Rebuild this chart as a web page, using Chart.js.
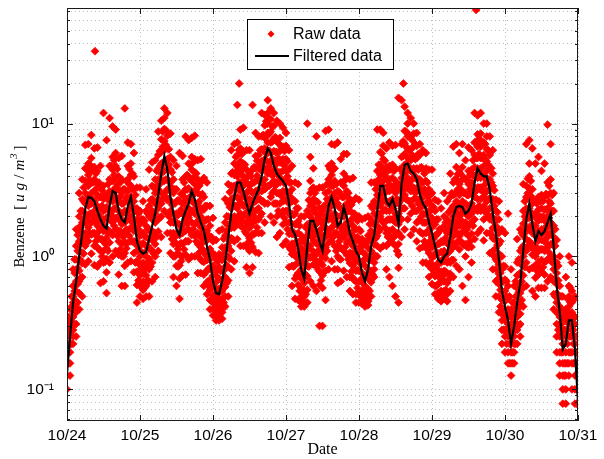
<!DOCTYPE html>
<html><head><meta charset="utf-8">
<script src="https://cdn.jsdelivr.net/npm/chart.js@4.4.0/dist/chart.umd.min.js"></script>
<style>html,body{margin:0;padding:0;background:#fff;}#wrap{width:604px;height:459px;}</style>
</head><body><div id="wrap"><canvas id="c" width="604" height="459"></canvas></div>
<script>
// x ticks (days since 10/24) and their labels
const dayTicks = [0,1,2,3,4,5,6,7];
const dayLabels = ['10/24','10/25','10/26','10/27','10/28','10/29','10/30','10/31'];
// y grid ticks and labelled decades
const yGridTicks = [0.06,0.07,0.08,0.09,0.1,0.2,0.3,0.4,0.5,0.6,0.7,0.8,0.9,1,2,3,4,5,6,7,8,9,10,20,30,40,50,60,70];
const yDecadeLabels = new Map([[0.1,'10\u207B\u00B9'],[1,'10\u2070'],[10,'10\u00B9']]);

// filtered data, one value per hour from 10/24 00:00 to 10/31 00:00
const filtered = [
0.13,0.25,0.45,0.65,1.0,1.5,2.3,2.8,2.75,2.6,
2.2,1.9,1.7,1.62,2.4,3.1,3.0,2.2,1.9,1.8,
2.4,2.8,2.0,1.3,1.1,1.05,1.08,1.35,1.7,2.1,
2.9,4.2,5.7,4.5,2.8,2.1,1.6,1.45,1.9,2.2,
2.5,3.1,2.7,2.1,1.8,1.55,1.2,0.95,0.65,0.53,
0.52,0.65,0.9,1.4,2.1,2.8,3.6,3.6,3.1,2.5,
2.1,2.5,2.85,3.2,4.0,5.4,6.5,6.0,4.8,4.2,
3.9,3.7,3.4,2.5,1.6,1.45,1.15,0.8,0.68,1.2,
1.85,1.85,1.6,1.3,1.1,1.65,2.4,2.8,2.3,1.7,
1.8,2.35,1.95,1.5,1.3,1.1,1.0,0.75,0.65,0.8,
1.2,1.45,2.2,3.4,3.4,2.6,2.4,2.7,2.3,1.75,
3.5,4.9,5.0,4.4,4.2,3.8,2.9,2.5,2.3,1.8,
1.5,1.2,0.95,0.9,1.0,1.05,1.4,2.0,2.35,2.4,
2.35,2.1,2.2,2.5,3.6,4.6,4.2,4.0,4.0,3.2,
2.1,1.5,0.95,0.55,0.42,0.33,0.22,0.3,0.45,0.62,
1.1,1.9,2.5,1.75,1.3,1.55,1.45,1.55,1.8,2.1,
1.2,0.6,0.38,0.2,0.22,0.33,0.33,0.2,0.08];

// raw data: per hour of each day, the column of readings taken on the hour
const rawDay24 = [
[0.35,0.31,0.28,0.25,0.22,0.19,0.157,0.127,0.1,0.3],[0.4,0.35,0.31,0.28,0.25,0.22,0.19,0.157,0.127,0.33],
[0.8,0.6,0.5,0.45,0.4,0.35,0.31,0.28,0.25,0.22],[1.6,1.2,0.95,0.78,0.65,0.55,0.46,0.38,0.31,0.25],
[3.0,2.0,1.6,1.3,1.1,0.92,0.78,0.65,0.53,0.4],[3.8,2.7,2.2,1.8,1.5,1.3,1.07,0.89,0.7,0.5],
[6.9,4.6,3.7,3.0,2.5,2.1,1.8,1.5,1.2,0.87],[7.0,5.0,4.1,3.4,2.8,2.4,2.0,1.65,1.3,0.92],
[8.2,5.5,4.4,3.6,3.0,2.5,2.1,1.8,1.46,1.05],[6.5,4.7,3.8,3.1,2.6,2.2,1.85,1.5,1.2,0.86],
[6.6,4.4,3.5,2.9,2.4,2.0,1.7,1.4,1.17,0.84],[4.8,3.4,2.8,2.3,1.9,1.6,1.35,1.1,0.9,0.63],
[12,3.4,2.7,2.2,1.9,1.55,1.3,1.1,0.9,0.65],[7.5,2.9,2.35,1.95,1.62,1.38,1.15,0.96,0.76,0.53],
[11,4.8,3.8,3.1,2.6,2.2,1.9,1.55,1.27,0.9],[9.5,5.6,4.5,3.7,3.1,2.6,2.2,1.8,1.45,1.0],
[9.0,6.0,4.8,3.9,3.3,2.8,2.3,1.95,1.6,1.1],[5.5,4.0,3.2,2.6,2.2,1.9,1.56,1.3,1.03,0.73],
[5.7,3.8,3.0,2.5,2.1,1.75,1.5,1.24,1.0,0.6],[13,3.2,2.6,2.2,1.8,1.5,1.28,1.06,0.85,0.6],
[7.2,4.8,3.8,3.1,2.6,2.2,1.9,1.56,1.27,0.9],[7.0,5.0,4.1,3.4,2.8,2.4,2.0,1.65,1.3,0.92],
[6.0,4.0,3.2,2.6,2.2,1.84,1.56,1.3,1.06,0.76],[3.3,2.3,1.9,1.56,1.3,1.1,0.92,0.77,0.61,0.45]];
const rawDay25 = [
[3.3,2.2,1.76,1.43,1.2,1.0,0.86,0.72,0.6,0.5],[2.6,1.9,1.5,1.26,1.05,0.9,0.75,0.65,0.56,0.48],
[3.2,2.2,1.7,1.4,1.2,1.0,0.85,0.72,0.6,0.5],[4.5,2.4,2.0,1.6,1.35,1.15,0.96,0.8,0.65,0.5],
[5.1,3.4,2.7,2.2,1.9,1.56,1.33,1.1,0.9,0.65],[5.3,3.8,3.0,2.5,2.1,1.8,1.5,1.24,1.0,0.7],
[8.7,5.8,4.6,3.8,3.2,2.7,2.3,1.9,1.54,1.1],[10.5,7.6,6.1,5.0,4.2,3.6,3.0,2.5,2.0,1.4],
[13,11,9.1,7.4,6.3,5.2,4.4,3.7,3.0,2.2],[12,8.1,6.5,5.4,4.5,3.8,3.2,2.65,2.1,1.5],
[8.4,5.6,4.5,3.6,3.1,2.6,2.2,1.8,1.5,1.06],[5.3,3.8,3.0,2.5,2.1,1.8,1.5,1.24,1.0,0.7],
[4.8,3.2,2.6,2.1,1.76,1.47,1.25,1.04,0.85,0.6],[6.0,2.6,2.1,1.74,1.45,1.23,1.03,0.86,0.68,0.48],
[5.7,3.8,3.0,2.5,2.1,1.75,1.5,1.24,1.0,0.72],[8.0,4.0,3.2,2.6,2.2,1.9,1.56,1.3,1.03,0.73],
[7.5,5.0,4.0,3.25,2.75,2.3,1.95,1.6,1.3,0.95],[7.8,5.6,4.5,3.7,3.1,2.6,2.2,1.8,1.45,1.0],
[8.1,5.4,4.3,3.5,3.0,2.5,2.1,1.75,1.43,1.0],[5.3,3.8,3.0,2.5,2.1,1.8,1.5,1.24,1.0,0.75],
[5.4,3.6,2.9,2.3,2.0,1.66,1.4,1.17,0.95,0.75],[3.9,2.8,2.25,1.86,1.55,1.32,1.1,0.91,0.73,0.6],
[3.6,2.4,1.9,1.56,1.32,1.1,0.94,0.78,0.64,0.52],[2.4,1.7,1.38,1.14,0.95,0.81,0.67,0.56,0.47,0.4]];
const rawDay26 = [
[1.95,1.3,1.04,0.85,0.72,0.6,0.51,0.45,0.4,0.36],[1.33,0.95,0.77,0.64,0.53,0.47,0.42,0.38,0.36,0.33],
[1.56,1.04,0.83,0.68,0.57,0.48,0.43,0.39,0.36,0.33],[1.6,1.17,0.94,0.78,0.65,0.55,0.48,0.42,0.38,0.34],
[2.7,1.8,1.44,1.17,1.0,0.83,0.7,0.59,0.5,0.42],[3.5,2.5,2.0,1.7,1.4,1.2,1.0,0.83,0.66,0.5],
[6.3,4.2,3.4,2.7,2.3,1.93,1.64,1.37,1.1,0.8],[7.0,5.0,4.1,3.4,2.8,2.4,2.0,1.65,1.3,0.92],
[13.8,7.2,5.8,4.7,4.0,3.3,2.8,2.3,1.9,1.35],[9.0,6.5,5.2,4.3,3.6,3.1,2.55,2.1,1.7,1.2],
[9.3,6.2,5.0,4.0,3.4,2.85,2.4,2.0,1.64,1.2],[6.3,4.5,3.6,3.0,2.5,2.1,1.8,1.48,1.18,0.83],
[6.3,4.2,3.4,2.7,2.3,1.93,1.64,1.37,1.1,0.75],[13.8,4.5,3.6,3.0,2.5,2.1,1.8,1.48,1.18,0.83],
[8.5,5.7,4.6,3.7,3.1,2.6,2.2,1.85,1.5,1.08],[8.0,5.8,4.6,3.8,3.2,2.7,2.3,1.9,1.5,1.06],
[12,8.0,6.4,5.2,4.4,3.7,3.1,2.6,2.1,1.5],[11.6,9.7,7.8,6.5,5.4,4.6,3.8,3.2,2.5,1.8],
[15,12,10,8.5,7.2,6.0,5.1,4.2,3.4,2.5],[13,10.8,8.7,7.2,6.0,5.1,4.3,3.5,2.8,2.0],
[12,9.6,7.7,6.2,5.3,4.4,3.7,3.1,2.5,1.8],[10.5,7.6,6.1,5.0,4.2,3.6,3.0,2.5,2.0,1.4],
[10,7.8,6.2,5.1,4.3,3.6,3.0,2.5,2.1,1.5],[9.3,6.7,5.4,4.4,3.7,3.1,2.6,2.2,1.74,1.22]];
const rawDay27 = [
[8.5,6.8,5.4,4.4,3.7,3.1,2.65,2.2,1.8,1.3],[6.3,4.5,3.6,3.0,2.5,2.1,1.8,1.48,1.18,0.83],
[4.8,3.2,2.6,2.1,1.76,1.47,1.25,1.04,0.85,0.6],[3.6,2.6,2.1,1.74,1.45,1.23,1.03,0.86,0.68,0.48],
[3.5,2.3,1.84,1.5,1.27,1.06,0.9,0.75,0.61,0.47],[2.0,1.44,1.16,0.96,0.8,0.68,0.57,0.5,0.45,0.42],
[2.0,1.36,1.09,0.88,0.75,0.63,0.55,0.5,0.45,0.42],[10,2.2,1.74,1.44,1.2,1.02,0.85,0.71,0.56,0.45],
[5.6,3.7,3.0,2.4,2.0,1.7,1.44,1.2,0.98,0.65],[4.6,3.3,2.7,2.2,1.85,1.57,1.31,1.09,0.87,0.6],
[8.0,3.2,2.6,2.1,1.76,1.47,1.25,1.04,0.85,0.55],[3.3,2.3,1.9,1.56,1.3,1.1,0.92,0.77,0.61,0.3],
[3.3,2.2,1.76,1.43,1.2,1.0,0.86,0.72,0.58,0.3],[8.8,3.0,2.4,2.0,1.65,1.4,1.17,0.97,0.78,0.47],
[9.0,4.8,3.8,3.1,2.6,2.2,1.9,1.56,1.27,0.8],[7.0,5.0,4.1,3.4,2.8,2.4,2.0,1.65,1.3,0.92],
[6.9,4.6,3.7,3.0,2.5,2.1,1.8,1.5,1.2,0.8],[7.2,3.1,2.5,2.0,1.7,1.45,1.2,1.0,0.8,0.63],
[5.4,3.6,2.9,2.3,2.0,1.66,1.4,1.17,0.95,0.65],[5.9,4.2,3.4,2.8,2.35,2.0,1.67,1.39,1.1,0.78],
[5.9,3.9,3.1,2.5,2.15,1.8,1.5,1.27,1.03,0.7],[3.8,2.7,2.2,1.8,1.5,1.28,1.07,0.89,0.7,0.55],
[3.9,2.6,2.1,1.7,1.43,1.2,1.0,0.85,0.69,0.52],[2.75,2.0,1.6,1.32,1.1,0.94,0.78,0.65,0.52,0.45]];
const rawDay28 = [
[2.67,2.0,1.6,1.3,1.1,0.92,0.78,0.65,0.53,0.45],[1.9,1.35,1.09,0.9,0.75,0.64,0.55,0.5,0.46,0.44],
[1.95,1.3,1.04,0.85,0.72,0.6,0.53,0.48,0.44,0.42],[2.0,1.44,1.16,0.96,0.8,0.68,0.57,0.5,0.46,0.43],
[3.6,2.4,1.9,1.56,1.32,1.1,0.94,0.78,0.64,0.5],[3.6,2.6,2.1,1.74,1.45,1.23,1.03,0.9,0.8,0.7],
[9.0,4.4,3.5,2.9,2.4,2.0,1.7,1.43,1.2,1.0],[9.0,6.1,4.9,4.1,3.4,2.9,2.4,2.0,1.6,1.15],
[8.5,6.8,5.4,4.4,3.7,3.1,2.65,2.2,1.8,1.2],[6.5,4.7,3.8,3.1,2.6,2.2,1.85,1.5,1.2,0.8],
[7.2,4.8,3.8,3.1,2.6,2.2,1.9,1.56,1.27,0.7],[6.8,4.9,3.9,3.2,2.7,2.3,1.9,1.6,1.27,0.6],
[6.9,4.6,3.7,3.0,2.5,2.1,1.8,1.5,1.2,0.5],[15.6,3.2,2.5,2.1,1.75,1.5,1.24,1.03,0.82,0.45],
[15,7.0,5.6,4.5,3.9,3.2,2.7,2.3,1.9,1.4],[13.4,8.8,7.1,5.9,4.9,4.2,3.5,2.9,2.3,1.6],
[12,10,8.0,6.5,5.5,4.6,3.9,3.25,2.65,1.9],[11,7.9,6.4,5.3,4.4,3.7,3.1,2.6,2.1,1.45],
[10,8.4,6.7,5.5,4.6,3.9,3.3,2.7,2.2,1.6],[8.5,6.8,5.5,4.6,3.8,3.2,2.7,2.2,1.8,1.3],
[7.0,5.8,4.6,3.8,3.2,2.7,2.3,1.9,1.54,1.15],[6.3,4.5,3.6,3.0,2.5,2.1,1.8,1.48,1.18,0.9],
[6.0,4.6,3.7,3.0,2.5,2.1,1.8,1.5,1.2,0.9],[4.5,3.2,2.6,2.2,1.8,1.5,1.28,1.06,0.85,0.7]];
const rawDay29 = [
[4.5,3.0,2.4,1.95,1.65,1.38,1.17,0.98,0.8,0.62],[2.67,2.2,1.74,1.44,1.2,1.02,0.85,0.71,0.6,0.52],
[2.6,1.9,1.5,1.24,1.05,0.87,0.74,0.62,0.53,0.48],[2.3,1.6,1.3,1.08,0.9,0.77,0.64,0.55,0.5,0.46],
[3.0,2.0,1.6,1.3,1.1,0.92,0.78,0.65,0.55,0.48],[2.6,1.9,1.5,1.26,1.05,0.9,0.75,0.63,0.52,0.46],
[4.2,2.8,2.2,1.8,1.54,1.3,1.1,0.9,0.74,0.55],[6.7,3.6,2.9,2.4,2.0,1.7,1.42,1.18,0.94,0.7],
[7.0,4.7,3.8,3.05,2.6,2.16,1.83,1.53,1.25,0.85],[6.0,4.3,3.5,2.9,2.4,2.0,1.7,1.42,1.13,0.8],
[7.0,4.7,3.8,3.05,2.6,2.16,1.83,1.53,1.25,0.6],[5.3,3.8,3.0,2.5,2.1,1.8,1.5,1.24,1.0,0.47],
[6.6,4.4,3.5,2.9,2.4,2.0,1.7,1.43,1.17,0.7],[6.3,4.5,3.6,3.0,2.5,2.1,1.8,1.48,1.18,0.9],
[12,7.2,5.8,4.7,4.0,3.3,2.8,2.3,1.9,1.35],[11.5,8.3,6.7,5.5,4.6,3.9,3.3,2.7,2.2,1.5],
[12,8.4,6.7,5.5,4.6,3.9,3.3,2.7,2.2,1.6],[10,7.2,5.8,4.8,4.0,3.4,2.8,2.4,1.9,1.32],
[10,8.0,6.4,5.2,4.4,3.7,3.1,2.6,2.1,1.5],[8.0,5.8,4.6,3.8,3.2,2.7,2.3,1.9,1.5,1.06],
[6.3,4.2,3.4,2.7,2.3,1.93,1.64,1.37,1.1,0.8],[2.67,2.2,1.9,1.6,1.35,1.15,0.95,0.8,0.65,0.5],
[2.6,1.9,1.5,1.24,1.05,0.87,0.74,0.62,0.5,0.38],[1.6,1.0,0.8,0.66,0.55,0.47,0.39,0.33,0.28,0.22]];
const rawDay30 = [
[1.5,0.84,0.67,0.55,0.46,0.39,0.33,0.28,0.25,0.19],[2.1,0.6,0.48,0.4,0.35,0.31,0.28,0.25,0.19,0.157],
[0.8,0.4,0.35,0.31,0.28,0.25,0.22,0.19,0.157,0.127],[0.6,0.45,0.4,0.35,0.31,0.28,0.25,0.22,0.19,0.157],
[1.35,0.9,0.72,0.58,0.5,0.41,0.35,0.31,0.28,0.22],[1.6,1.1,0.9,0.75,0.62,0.53,0.44,0.37,0.31,0.25],
[3.5,2.2,1.76,1.43,1.2,1.0,0.86,0.72,0.58,0.42],[7.0,3.4,2.8,2.3,1.9,1.6,1.35,1.1,0.9,0.6],
[7.5,5.0,4.0,3.25,2.75,2.3,1.95,1.6,1.3,0.8],[6.5,3.2,2.5,2.1,1.75,1.5,1.24,1.03,0.82,0.55],
[5.0,2.6,2.1,1.7,1.43,1.2,1.0,0.85,0.69,0.5],[5.6,2.8,2.25,1.86,1.55,1.32,1.1,0.91,0.73,0.58],
[4.4,2.9,2.3,1.9,1.6,1.33,1.13,0.94,0.77,0.58],[5.0,2.8,2.25,1.86,1.55,1.32,1.1,0.91,0.73,0.58],
[9.8,3.6,2.9,2.3,2.0,1.66,1.4,1.17,0.95,0.65],[7.0,3.8,3.0,2.5,2.1,1.8,1.5,1.24,1.0,0.7],
[3.0,2.2,1.7,1.4,1.2,1.0,0.8,0.65,0.52,0.4],[1.33,0.9,0.75,0.62,0.53,0.45,0.38,0.31,0.25,0.19],
[1.0,0.6,0.5,0.42,0.35,0.31,0.25,0.19,0.157,0.127],[0.5,0.35,0.28,0.25,0.22,0.19,0.157,0.127,0.1,0.078],
[0.7,0.4,0.33,0.28,0.25,0.19,0.157,0.127,0.1,0.078],[1.0,0.6,0.5,0.42,0.35,0.31,0.25,0.19,0.157,0.127],
[0.9,0.55,0.45,0.38,0.31,0.28,0.25,0.19,0.157,0.1],[0.5,0.35,0.31,0.25,0.22,0.19,0.157,0.127,0.1,0.078],
[0.35,0.25,0.19,0.157,0.127,0.1,0.078,0.078,0.1,0.127]];

// raw data: per hour of each day, the column of readings taken at half past
const rawHalf24 = [
[0.35,0.28,0.22,0.19,0.157],[0.5,0.42,0.35,0.28,0.22],[0.95,0.75,0.55,0.42,0.31],[1.45,1.1,0.82,0.62,0.45],
[2.2,1.7,1.25,0.94,0.69],[3.3,2.6,1.9,1.4,1.05],[4.5,3.4,2.55,1.9,1.4],[4.9,3.75,2.8,2.1,1.5],
[4.7,3.6,2.7,2.0,1.5],[4.2,3.2,2.4,1.8,1.3],[3.6,2.8,2.05,1.55,1.13],[3.15,2.4,1.8,1.35,1.0],
[2.9,2.25,1.66,1.25,0.91],[3.5,2.7,2.0,1.5,1.1],[4.8,3.7,2.75,2.05,1.5],[5.3,4.1,3.05,2.3,1.7],
[4.55,3.5,2.6,1.95,1.43],[3.6,2.8,2.05,1.55,1.13],[3.2,2.5,1.85,1.4,1.0],[3.7,2.8,2.1,1.6,1.15],
[4.55,3.5,2.6,1.95,1.43],[4.2,3.2,2.4,1.8,1.3],[2.9,2.2,1.65,1.24,0.9],[2.1,1.6,1.2,0.9,0.66]];
const rawHalf25 = [
[1.9,1.45,1.08,0.81,0.6],[1.85,1.43,1.06,0.8,0.58],[2.1,1.6,1.2,0.9,0.66],[2.65,2.05,1.52,1.14,0.84],
[3.3,2.6,1.9,1.4,1.05],[4.4,3.4,2.5,1.9,1.4],[6.2,4.8,3.55,2.65,1.95],[8.7,6.7,4.95,3.7,2.7],
[8.9,6.9,5.1,3.8,2.8],[6.4,4.9,3.65,2.7,2.0],[4.3,3.3,2.45,1.84,1.35],[3.2,2.5,1.85,1.4,1.0],
[2.65,2.05,1.52,1.14,0.84],[2.95,2.25,1.68,1.26,0.92],[3.6,2.8,2.05,1.55,1.13],[4.1,3.2,2.35,1.76,1.3],
[4.9,3.8,2.8,2.1,1.54],[5.1,3.9,2.9,2.2,1.6],[4.2,3.2,2.4,1.8,1.3],[3.4,2.6,1.95,1.46,1.07],
[2.95,2.25,1.68,1.26,0.92],[2.4,1.86,1.38,1.03,0.76],[1.9,1.45,1.08,0.81,0.6],[1.4,1.08,0.8,0.6,0.46]];
const rawHalf26 = [
[1.03,0.8,0.59,0.47,0.4],[0.91,0.7,0.52,0.43,0.37],[1.0,0.78,0.58,0.46,0.39],[1.36,1.05,0.78,0.58,0.45],
[2.0,1.55,1.15,0.86,0.63],[3.05,2.35,1.75,1.3,0.96],[4.3,3.3,2.45,1.84,1.35],[5.6,4.3,3.2,2.4,1.76],
[6.3,4.9,3.6,2.7,2.0],[5.9,4.5,3.35,2.5,1.84],[4.9,3.8,2.8,2.1,1.54],[4.0,3.1,2.3,1.7,1.27],
[4.0,3.1,2.3,1.7,1.27],[4.7,3.6,2.68,2.0,1.47],[5.25,4.05,3.0,2.25,1.65],[6.3,4.9,3.6,2.7,2.0],
[8.2,6.3,4.7,3.5,2.6],[10.4,8.0,5.95,4.5,3.3],[10.9,8.4,6.25,4.7,3.4],[9.5,7.3,5.4,4.05,3.0],
[7.9,6.1,4.5,3.4,2.5],[7.1,5.5,4.05,3.0,2.2],[6.65,5.1,3.8,2.85,2.1],[6.2,4.8,3.55,2.65,1.95]];
const rawHalf27 = [
[5.2,4.0,2.95,2.2,1.6],[3.6,2.8,2.05,1.55,1.13],[2.65,2.05,1.52,1.14,0.84],[2.3,1.75,1.3,0.98,0.72],
[1.7,1.3,0.98,0.73,0.55],[1.3,1.0,0.74,0.56,0.46],[1.65,1.27,0.94,0.7,0.52],[2.65,2.05,1.52,1.14,0.84],
[3.2,2.5,1.85,1.4,1.0],[3.0,2.3,1.72,1.3,0.95],[2.55,1.95,1.45,1.1,0.8],[2.1,1.6,1.2,0.9,0.66],
[2.4,1.86,1.38,1.03,0.76],[3.5,2.7,2.0,1.5,1.1],[4.55,3.5,2.6,1.95,1.43],[4.5,3.4,2.55,1.9,1.4],
[3.5,2.7,2.0,1.5,1.1],[3.05,2.35,1.75,1.3,0.96],[3.6,2.8,2.08,1.56,1.14],[3.75,2.9,2.15,1.6,1.18],
[3.0,2.3,1.72,1.3,0.95],[2.45,1.9,1.4,1.05,0.77],[2.1,1.6,1.2,0.9,0.66],[1.85,1.4,1.05,0.79,0.58]];
const rawHalf28 = [
[1.55,1.18,0.88,0.66,0.5],[1.22,0.94,0.7,0.55,0.46],[1.26,0.97,0.72,0.56,0.46],[1.75,1.35,1.0,0.75,0.55],
[2.3,1.8,1.32,1.0,0.73],[3.2,2.45,1.82,1.37,1.0],[4.9,3.8,2.8,2.1,1.54],[5.95,4.6,3.4,2.55,1.87],
[5.25,4.05,3.0,2.25,1.65],[4.4,3.4,2.5,1.9,1.4],[4.5,3.4,2.55,1.9,1.4],[4.4,3.4,2.5,1.9,1.4],
[3.5,2.7,2.02,1.5,1.1],[4.55,3.5,2.6,1.95,1.43],[7.35,5.7,4.2,3.15,2.3],[8.7,6.7,4.95,3.7,2.7],
[8.2,6.3,4.7,3.5,2.6],[7.5,5.8,4.3,3.2,2.4],[7.0,5.4,4.0,3.0,2.2],[5.9,4.5,3.35,2.5,1.84],
[4.7,3.65,2.7,2.0,1.5],[4.2,3.2,2.4,1.8,1.3],[3.6,2.8,2.05,1.55,1.13],[2.9,2.2,1.65,1.24,0.9]];
const rawHalf29 = [
[2.35,1.8,1.35,1.0,0.74],[1.9,1.45,1.08,0.81,0.6],[1.6,1.25,0.92,0.69,0.52],[1.65,1.28,0.95,0.71,0.53],
[1.8,1.38,1.02,0.77,0.56],[2.15,1.65,1.22,0.92,0.67],[3.0,2.3,1.7,1.28,0.94],[3.8,2.95,2.18,1.63,1.2],
[4.15,3.2,2.38,1.78,1.3],[4.15,3.2,2.38,1.78,1.3],[3.9,3.0,2.22,1.67,1.22],[3.75,2.9,2.15,1.6,1.18],
[4.1,3.2,2.35,1.76,1.3],[5.3,4.1,3.05,2.3,1.7],[7.2,5.5,4.1,3.1,2.25],[7.7,5.9,4.4,3.3,2.4],
[7.2,5.5,4.1,3.1,2.25],[7.0,5.4,4.0,3.0,2.2],[6.3,4.9,3.6,2.7,2.0],[4.6,3.6,2.65,2.0,1.46],
[3.15,2.4,1.8,1.35,1.0],[2.15,1.65,1.22,0.92,0.67],[1.3,1.0,0.75,0.56,0.42],[0.85,0.65,0.48,0.36,0.28]];
const rawHalf30 = [
[0.65,0.5,0.37,0.28,0.22],[0.5,0.38,0.28,0.22,0.157],[0.45,0.35,0.25,0.19,0.157],[0.65,0.5,0.38,0.28,0.22],
[0.95,0.73,0.54,0.41,0.3],[1.5,1.16,0.86,0.65,0.47],[2.6,2.0,1.5,1.13,0.83],[3.85,3.0,2.2,1.65,1.2],
[3.7,2.85,2.12,1.6,1.17],[2.65,2.05,1.52,1.14,0.84],[2.5,1.9,1.42,1.07,0.78],[2.6,2.0,1.5,1.13,0.83],
[2.6,2.0,1.5,1.13,0.83],[2.95,2.25,1.68,1.26,0.92],[3.4,2.6,1.95,1.46,1.07],[2.9,2.2,1.65,1.24,0.9],
[1.6,1.2,0.9,0.68,0.5],[0.85,0.66,0.49,0.37,0.28],[0.5,0.4,0.31,0.25,0.19],[0.37,0.28,0.22,0.157,0.127],
[0.48,0.38,0.28,0.22,0.157],[0.58,0.45,0.33,0.25,0.19],[0.47,0.36,0.28,0.22,0.157],[0.25,0.19,0.157,0.1,0.078]];

// isolated high readings: [hour, value]
const rawOutliers = [[9.2,35],[56.6,20],[110.6,20],[134.5,71.6]];

const rawDays = [rawDay24,rawDay25,rawDay26,rawDay27,rawDay28,rawDay29,rawDay30];
const rawHalves = [rawHalf24,rawHalf25,rawHalf26,rawHalf27,rawHalf28,rawHalf29,rawHalf30];
const rawPoints = [];
rawDays.forEach((day, d) => day.forEach((col, i) => col.forEach(v => rawPoints.push({x: (d*24 + i)/24, y: v}))));
rawHalves.forEach((day, d) => day.forEach((col, i) => col.forEach(v => rawPoints.push({x: (d*24 + i + 0.5)/24, y: v}))));
rawOutliers.forEach(([h, v]) => rawPoints.push({x: h/24, y: v}));
const filteredPoints = filtered.map((v, i) => ({x: i/24, y: v}));

const SANS = "'Liberation Sans', Arial, Helvetica, sans-serif";
const SERIF = "'Liberation Serif', 'Times New Roman', serif";

// y axis title drawn LaTeX-like: roman word, italic math units
const yTitleParts = [
  {t: 'Benzene', style: '', size: 14.5, gap: 8},
  {t: '[', style: '', size: 15, gap: 3},
  {t: 'u', style: 'italic ', size: 15, gap: 4},
  {t: 'g', style: 'italic ', size: 15, gap: 4},
  {t: '/', style: '', size: 15, gap: 4},
  {t: 'm', style: 'italic ', size: 15, gap: 1},
  {t: '3', style: 'italic ', size: 10.5, gap: 3, rise: 6},
  {t: ']', style: '', size: 15, gap: 0}
];

const framePlugin = {
  id: 'frame',
  afterDraw(chart) {
    const {ctx, chartArea: a, scales: {x, y}} = chart;
    ctx.save();
    ctx.strokeStyle = '#1a1a1a';
    ctx.lineWidth = 1;
    ctx.beginPath();
    y.ticks.forEach(t => {
      const py = Math.round(y.getPixelForValue(t.value)) + 0.5;
      const len = yDecadeLabels.has(t.value) ? 6 : 3;
      ctx.moveTo(a.left, py); ctx.lineTo(a.left + len, py);
      ctx.moveTo(a.right, py); ctx.lineTo(a.right - len, py);
    });
    x.ticks.forEach(t => {
      const px = Math.round(x.getPixelForValue(t.value)) + 0.5;
      ctx.moveTo(px, a.bottom); ctx.lineTo(px, a.bottom - 6);
      ctx.moveTo(px, a.top); ctx.lineTo(px, a.top + 6);
    });
    ctx.stroke();
    ctx.strokeRect(a.left + 0.5, a.top + 0.5, a.right - a.left - 1, a.bottom - a.top - 1);

    // legend
    const ds = chart.data.datasets;
    const lx = a.left + 180, ly = a.top + 11, lw = 146, lh = 50;
    ctx.fillStyle = '#fff';
    ctx.fillRect(lx, ly, lw, lh);
    ctx.strokeStyle = '#000';
    ctx.strokeRect(lx + 0.5, ly + 0.5, lw, lh);
    ctx.font = '16px ' + SANS;
    ctx.textBaseline = 'middle';
    ctx.textAlign = 'left';
    const rawDs = ds[1], filDs = ds[0];
    const r1 = ly + 15, r2 = ly + 37;
    ctx.fillStyle = rawDs.backgroundColor;
    ctx.beginPath();
    ctx.moveTo(lx + 24, r1 - 3.5); ctx.lineTo(lx + 27.5, r1); ctx.lineTo(lx + 24, r1 + 3.5); ctx.lineTo(lx + 20.5, r1);
    ctx.closePath(); ctx.fill();
    ctx.strokeStyle = filDs.borderColor; ctx.lineWidth = 2;
    ctx.beginPath(); ctx.moveTo(lx + 8, r2); ctx.lineTo(lx + 42, r2); ctx.stroke();
    ctx.fillStyle = '#000';
    ctx.fillText(rawDs.label, lx + 46, r1 + 1);
    ctx.fillText(filDs.label, lx + 46, r2 + 1);

    // y axis title
    let total = 0;
    yTitleParts.forEach(p => { ctx.font = p.style + p.size + 'px ' + SERIF; p.w = ctx.measureText(p.t).width; total += p.w + p.gap; });
    ctx.translate(19, (a.top + a.bottom) / 2 - 8);
    ctx.rotate(-Math.PI / 2);
    ctx.textBaseline = 'middle';
    let cx = -total / 2;
    yTitleParts.forEach(p => {
      ctx.font = p.style + p.size + 'px ' + SERIF;
      ctx.fillText(p.t, cx, 1 - (p.rise || 0));
      cx += p.w + p.gap;
    });
    ctx.restore();
  }
};

new Chart(document.getElementById('c'), {
  type: 'scatter',
  data: {
    datasets: [
      {label: 'Filtered data', data: filteredPoints, showLine: true, borderColor: '#000', borderWidth: 2.2,
       pointRadius: 0, tension: 0, order: 0},
      {label: 'Raw data', data: rawPoints, backgroundColor: '#ff0000', borderColor: '#ff0000', borderWidth: 0.8,
       pointStyle: 'rectRot', pointRadius: 3.9, order: 1}
    ]
  },
  options: {
    responsive: false, animation: false, devicePixelRatio: 1,
    layout: {padding: {left: 0, right: 26, top: 8, bottom: 0}},
    plugins: {legend: {display: false}, tooltip: {enabled: false}},
    scales: {
      x: {
        type: 'linear', min: 0, max: 7,
        afterBuildTicks: s => { s.ticks = dayTicks.map(v => ({value: v})); },
        afterFit: s => { s.height = 38; s.paddingLeft = 0; s.paddingRight = 0; },
        ticks: {callback: v => dayLabels[v], color: '#000', font: {family: SANS, size: 15.5}, padding: 5, maxRotation: 0, autoSkip: false},
        grid: {color: '#bdbdbd', lineWidth: 1, drawTicks: false},
        border: {display: false, dash: [1, 3]},
        title: {display: true, text: 'Date', color: '#000', font: {family: SERIF, size: 16}, padding: {top: 0, bottom: 0}}
      },
      y: {
        type: 'logarithmic', min: 0.0578, max: 74,
        afterBuildTicks: s => { s.ticks = yGridTicks.map(v => ({value: v})); },
        afterFit: s => { s.width = 67; s.paddingTop = 0; s.paddingBottom = 0; },
        ticks: {callback: v => yDecadeLabels.get(v) || '', color: '#000', font: {family: SANS, size: 15.5}, padding: 13, autoSkip: false},
        grid: {color: '#bdbdbd', lineWidth: 1, drawTicks: false},
        border: {display: false, dash: [1, 3]},
        title: {display: false}
      }
    }
  },
  plugins: [framePlugin]
});
</script>
</body></html>
